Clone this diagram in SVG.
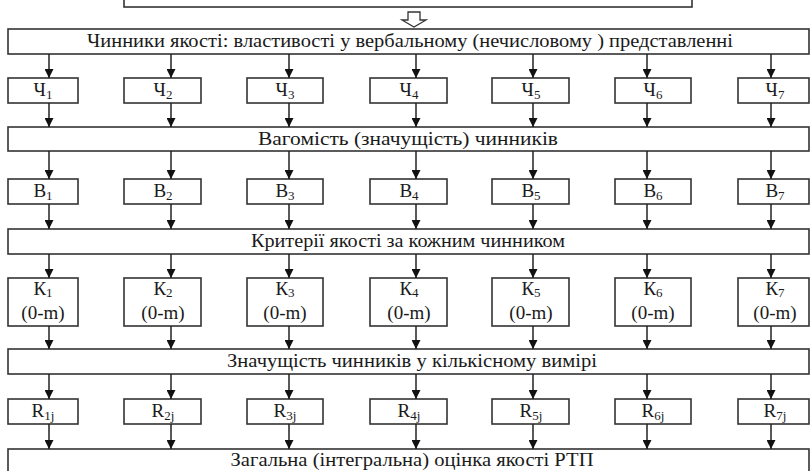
<svg xmlns="http://www.w3.org/2000/svg" width="811" height="471" viewBox="0 0 811 471">
<defs>
<style>
.bx{fill:#fff;stroke:#333;stroke-width:1.6}
.ln{stroke:#222;stroke-width:1.5;fill:none}
.s{font-size:13px}
</style>
<marker id="ah" viewBox="0 0 10 10" refX="10" refY="5" markerWidth="10" markerHeight="9" orient="auto" markerUnits="userSpaceOnUse">
<path d="M0,0 L10,5 L0,10 z" fill="#111"/>
</marker>
</defs>
<rect width="811" height="471" fill="#fff"/>
<g font-family="Liberation Serif, Times New Roman, DejaVu Serif, serif" font-size="19" fill="#1a1a1a" text-anchor="middle">

<g id="top-box"><rect class="bx" x="124" y="-10" width="568" height="17"/></g>
<g id="hollow-arrow"><path d="M408,12 H420 V20 H426 L414,27 L402,20 H408 Z" fill="#fff" stroke="#333" stroke-width="1.3"/></g>

<g id="band-chynnyky"><rect class="bx" x="8" y="29" width="801" height="25"/><text x="410" y="47" textLength="646" lengthAdjust="spacingAndGlyphs">Чинники якості: властивості у вербальному (нечисловому ) представленні</text></g>

<g id="ch1"><rect class="bx" x="8" y="78" width="70" height="25"/><text x="43" y="96">Ч<tspan class="s" dy="3">1</tspan></text></g>
<g id="ch2"><rect class="bx" x="124" y="78" width="77" height="25"/><text x="163" y="96">Ч<tspan class="s" dy="3">2</tspan></text></g>
<g id="ch3"><rect class="bx" x="247" y="78" width="76" height="25"/><text x="285" y="96">Ч<tspan class="s" dy="3">3</tspan></text></g>
<g id="ch4"><rect class="bx" x="370" y="78" width="77" height="25"/><text x="409" y="96">Ч<tspan class="s" dy="3">4</tspan></text></g>
<g id="ch5"><rect class="bx" x="492" y="78" width="77" height="25"/><text x="531" y="96">Ч<tspan class="s" dy="3">5</tspan></text></g>
<g id="ch6"><rect class="bx" x="615" y="78" width="76" height="25"/><text x="653" y="96">Ч<tspan class="s" dy="3">6</tspan></text></g>
<g id="ch7"><rect class="bx" x="738" y="78" width="71" height="25"/><text x="775" y="96">Ч<tspan class="s" dy="3">7</tspan></text></g>

<g id="band-vagomist"><rect class="bx" x="8" y="127" width="801" height="24"/><text x="408" y="145" textLength="300" lengthAdjust="spacingAndGlyphs">Вагомість (значущість) чинників</text></g>

<g id="b1"><rect class="bx" x="8" y="179" width="70" height="25"/><text x="43" y="197">В<tspan class="s" dy="3">1</tspan></text></g>
<g id="b2"><rect class="bx" x="124" y="179" width="77" height="25"/><text x="163" y="197">В<tspan class="s" dy="3">2</tspan></text></g>
<g id="b3"><rect class="bx" x="247" y="179" width="76" height="25"/><text x="285" y="197">В<tspan class="s" dy="3">3</tspan></text></g>
<g id="b4"><rect class="bx" x="370" y="179" width="77" height="25"/><text x="409" y="197">В<tspan class="s" dy="3">4</tspan></text></g>
<g id="b5"><rect class="bx" x="492" y="179" width="77" height="25"/><text x="531" y="197">В<tspan class="s" dy="3">5</tspan></text></g>
<g id="b6"><rect class="bx" x="615" y="179" width="76" height="25"/><text x="653" y="197">В<tspan class="s" dy="3">6</tspan></text></g>
<g id="b7"><rect class="bx" x="738" y="179" width="71" height="25"/><text x="775" y="197">В<tspan class="s" dy="3">7</tspan></text></g>

<g id="band-kryterii"><rect class="bx" x="8" y="229" width="801" height="25"/><text x="408" y="247" textLength="314" lengthAdjust="spacingAndGlyphs">Критерії якості за кожним чинником</text></g>

<g id="k1"><rect class="bx" x="8" y="278" width="70" height="48"/><text x="43" y="295">К<tspan class="s" dy="2">1</tspan></text><text x="43" y="319">(0-m)</text></g>
<g id="k2"><rect class="bx" x="124" y="278" width="77" height="48"/><text x="163" y="295">К<tspan class="s" dy="2">2</tspan></text><text x="163" y="319">(0-m)</text></g>
<g id="k3"><rect class="bx" x="247" y="278" width="76" height="48"/><text x="285" y="295">К<tspan class="s" dy="2">3</tspan></text><text x="285" y="319">(0-m)</text></g>
<g id="k4"><rect class="bx" x="370" y="278" width="77" height="48"/><text x="409" y="295">К<tspan class="s" dy="2">4</tspan></text><text x="409" y="319">(0-m)</text></g>
<g id="k5"><rect class="bx" x="492" y="278" width="77" height="48"/><text x="531" y="295">К<tspan class="s" dy="2">5</tspan></text><text x="531" y="319">(0-m)</text></g>
<g id="k6"><rect class="bx" x="615" y="278" width="76" height="48"/><text x="653" y="295">К<tspan class="s" dy="2">6</tspan></text><text x="653" y="319">(0-m)</text></g>
<g id="k7"><rect class="bx" x="738" y="278" width="71" height="48"/><text x="775" y="295">К<tspan class="s" dy="2">7</tspan></text><text x="775" y="319">(0-m)</text></g>

<g id="band-znachushchist"><rect class="bx" x="8" y="349" width="801" height="25"/><text x="412" y="367" textLength="370" lengthAdjust="spacingAndGlyphs">Значущість чинників у кількісному вимірі</text></g>

<g id="r1"><rect class="bx" x="8" y="399" width="70" height="25"/><text x="43" y="417">R<tspan class="s" dy="3">1j</tspan></text></g>
<g id="r2"><rect class="bx" x="124" y="399" width="77" height="25"/><text x="163" y="417">R<tspan class="s" dy="3">2j</tspan></text></g>
<g id="r3"><rect class="bx" x="247" y="399" width="76" height="25"/><text x="285" y="417">R<tspan class="s" dy="3">3j</tspan></text></g>
<g id="r4"><rect class="bx" x="370" y="399" width="77" height="25"/><text x="409" y="417">R<tspan class="s" dy="3">4j</tspan></text></g>
<g id="r5"><rect class="bx" x="492" y="399" width="77" height="25"/><text x="531" y="417">R<tspan class="s" dy="3">5j</tspan></text></g>
<g id="r6"><rect class="bx" x="615" y="399" width="76" height="25"/><text x="653" y="417">R<tspan class="s" dy="3">6j</tspan></text></g>
<g id="r7"><rect class="bx" x="738" y="399" width="71" height="25"/><text x="775" y="417">R<tspan class="s" dy="3">7j</tspan></text></g>

<g id="band-zagalna"><rect class="bx" x="8" y="449" width="801" height="30"/><text x="412" y="466" textLength="363" lengthAdjust="spacingAndGlyphs">Загальна (інтегральна) оцінка якості РТП</text></g>
</g>

<g id="connectors" class="ln" marker-end="url(#ah)">
<path d="M49,54 V78"/><path d="M171,54 V78"/><path d="M289,54 V78"/><path d="M416,54 V78"/><path d="M533,54 V78"/><path d="M647,54 V78"/><path d="M771,54 V78"/>
<path d="M49,103 V127"/><path d="M171,103 V127"/><path d="M289,103 V127"/><path d="M416,103 V127"/><path d="M533,103 V127"/><path d="M647,103 V127"/><path d="M771,103 V127"/>
<path d="M49,151 V179"/><path d="M171,151 V179"/><path d="M289,151 V179"/><path d="M416,151 V179"/><path d="M533,151 V179"/><path d="M647,151 V179"/><path d="M771,151 V179"/>
<path d="M49,204 V229"/><path d="M171,204 V229"/><path d="M289,204 V229"/><path d="M416,204 V229"/><path d="M533,204 V229"/><path d="M647,204 V229"/><path d="M771,204 V229"/>
<path d="M49,254 V278"/><path d="M171,254 V278"/><path d="M289,254 V278"/><path d="M416,254 V278"/><path d="M533,254 V278"/><path d="M647,254 V278"/><path d="M771,254 V278"/>
<path d="M49,326 V349"/><path d="M171,326 V349"/><path d="M289,326 V349"/><path d="M416,326 V349"/><path d="M533,326 V349"/><path d="M647,326 V349"/><path d="M771,326 V349"/>
<path d="M49,374 V399"/><path d="M171,374 V399"/><path d="M289,374 V399"/><path d="M416,374 V399"/><path d="M533,374 V399"/><path d="M647,374 V399"/><path d="M771,374 V399"/>
<path d="M49,424 V449"/><path d="M171,424 V449"/><path d="M289,424 V449"/><path d="M416,424 V449"/><path d="M533,424 V449"/><path d="M647,424 V449"/><path d="M771,424 V449"/>
</g>
</svg>
